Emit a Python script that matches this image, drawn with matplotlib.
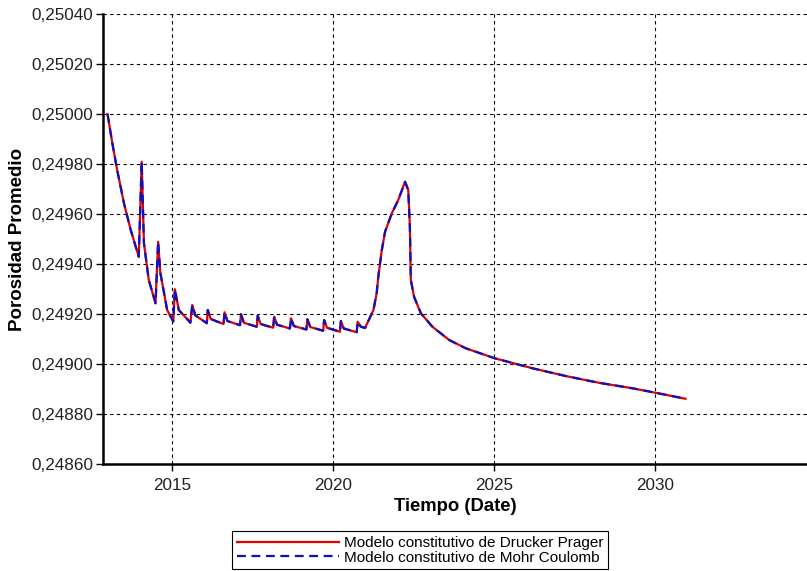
import matplotlib
matplotlib.use("Agg")
import matplotlib.pyplot as plt
from matplotlib.ticker import FuncFormatter

plt.rcParams['font.family'] = ['Liberation Sans', 'DejaVu Sans']

# tiempo (years, decimal) and average porosity
years = [2013.00, 2013.15, 2013.30, 2013.51, 2013.72, 2013.97,
         2014.06, 2014.13, 2014.28, 2014.49,
         2014.57, 2014.64, 2014.85, 2015.04,
         2015.09, 2015.21, 2015.47, 2015.57,
         2015.63, 2015.72, 2016.08,
         2016.11, 2016.20, 2016.60,
         2016.63, 2016.72, 2017.11,
         2017.14, 2017.23, 2017.63,
         2017.66, 2017.75, 2018.14,
         2018.17, 2018.26, 2018.66,
         2018.69, 2018.78, 2019.17,
         2019.20, 2019.29, 2019.69,
         2019.72, 2019.81, 2020.21,
         2020.24, 2020.33, 2020.73,
         2020.76, 2020.85, 2020.99,
         2021.25, 2021.35, 2021.40, 2021.51, 2021.61, 2021.82, 2022.02,
         2022.23, 2022.33, 2022.38, 2022.41, 2022.51, 2022.72, 2023.08,
         2023.60, 2024.11, 2025.01, 2026.18, 2027.21, 2028.24, 2029.28,
         2030.00, 2030.93]
porosity_dp = [0.25000, 0.249883, 0.249776, 0.249643, 0.249536, 0.249429,
               0.249809, 0.249483, 0.249336, 0.249243,
               0.249489, 0.249364, 0.249216, 0.249170,
               0.249299, 0.249216, 0.249180, 0.249165,
               0.249236, 0.249195, 0.249163,
               0.249216, 0.249180, 0.249160,
               0.249207, 0.249172, 0.249155,
               0.249199, 0.249165, 0.249149,
               0.249193, 0.249160, 0.249145,
               0.249189, 0.249157, 0.249142,
               0.249183, 0.249152, 0.249138,
               0.249179, 0.249148, 0.249133,
               0.249176, 0.249145, 0.249129,
               0.249172, 0.249142, 0.249127,
               0.249169, 0.249150, 0.249144,
               0.249216, 0.249283, 0.249349, 0.249456, 0.249529, 0.249603, 0.249656,
               0.249729, 0.249696, 0.249549, 0.249336, 0.249269, 0.249203, 0.249149,
               0.249096, 0.249063, 0.249023, 0.248983, 0.248952, 0.248925, 0.248903,
               0.248885, 0.248861]
porosity_mc = list(porosity_dp)

fig = plt.figure(figsize=(8.07, 5.71), dpi=100)
ax = fig.add_axes([103/807, 1-464/571, 1-103/807, 450/571])

ax.plot(years, porosity_dp, color='#e00000', lw=1.6, label='Modelo constitutivo de Drucker Prager')
ax.plot(years, porosity_mc, color='#1010c0', lw=1.6, ls=(0, (4, 2.5)), label='Modelo constitutivo de Mohr Coulomb')

ax.set_xlim(2012.86, 2034.7)
ax.set_ylim(0.24860, 0.25040)
ax.set_xticks([2015, 2020, 2025, 2030])
ax.set_yticks([0.24860 + 0.0002*i for i in range(10)])
ax.yaxis.set_major_formatter(FuncFormatter(lambda v, p: f"{v:.5f}".replace('.', ',')))
ax.tick_params(labelsize=12.3, length=5, width=1, pad=2, labelcolor='#222222')
ax.tick_params(axis='x', pad=5)

ax.grid(True, color='black', ls=(0, (3, 3)), lw=0.8)
for s in ['top', 'right']:
    ax.spines[s].set_visible(False)
for s in ['left', 'bottom']:
    ax.spines[s].set_linewidth(1.8)

ax.set_xlabel('Tiempo (Date)', fontsize=13.3, fontweight='bold', labelpad=4)
ax.set_ylabel('Porosidad Promedio', fontsize=13.5, fontweight='bold', labelpad=4)

leg = fig.legend(loc='lower center', bbox_to_anchor=(420/807, 0.003), fontsize=11,
                 handlelength=6.7, fancybox=False, framealpha=1, edgecolor='black',
                 borderpad=0.3, labelspacing=0.05, handletextpad=0.3, borderaxespad=0)
leg.get_frame().set_linewidth(0.8)

fig.savefig('out.png', dpi=100)
